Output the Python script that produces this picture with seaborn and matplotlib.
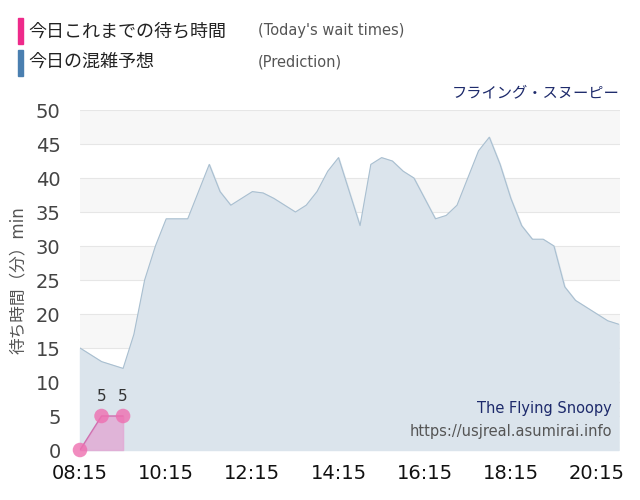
import matplotlib
matplotlib.use("Agg")
import matplotlib.pyplot as plt
import seaborn as sns
import pandas as pd
import numpy as np

sns.set_theme(style="white")
plt.rcParams['font.family'] = ['DejaVu Sans', 'Noto Sans CJK JP']

pred_times = ["08:15","08:30","08:45","09:00","09:15","09:30","09:45","10:00","10:15","10:30",
              "10:45","11:00","11:15","11:30","11:45","12:00","12:15","12:30","12:45","13:00",
              "13:15","13:30","13:45","14:00","14:15","14:30","14:45","15:00","15:15","15:30",
              "15:45","16:00","16:15","16:30","16:45","17:00","17:15","17:30","17:45","18:00",
              "18:15","18:30","18:45","19:00","19:15","19:30","19:45","20:00","20:15","20:30","20:45"]
pred_vals = [15,14,13,12.5,12,17,25,30,34,34,
             34,38,42,38,36,37,38,37.8,37,36,
             35,36,38,41,43,38,33,42,43,42.5,
             41,40,37,34,34.5,36,40,44,46,42,
             37,33,31,31,30,24,22,21,20,19,18.5]
act_times = ["08:15","08:45","09:15"]
act_vals = [0,5,5]
tick_labels = ["08:15","10:15","12:15","14:15","16:15","18:15","20:15"]

def tmin(s):
    h, m = s.split(":")
    return int(h)*60+int(m)

pred = pd.DataFrame({"t":[tmin(s) for s in pred_times], "v":pred_vals})
act = pd.DataFrame({"t":[tmin(s) for s in act_times], "v":act_vals})

fig = plt.figure(figsize=(6.4,5.0), dpi=100)
ax = fig.add_axes([80/640, 50/500, 540/640, 340/500])
t0 = tmin("08:15")
ax.set_xlim(t0, tmin("20:47"))
ax.set_ylim(0, 50)
for i, y in enumerate(range(0, 50, 5)):
    ax.axhspan(y, y+5, color="#f7f7f7" if i % 2 else "#ffffff", zorder=0, lw=0)
for y in range(0, 55, 5):
    ax.axhline(y, color="#e6e6e6", lw=0.8, zorder=0.5)

ax.fill_between(pred.t, pred.v, color="#dbe4ec", zorder=1)
sns.lineplot(data=pred, x="t", y="v", ax=ax, color="#a9bfd0", lw=0.8, zorder=2)
ax.fill_between(act.t, act.v, color="#e2a8d4", alpha=0.8, zorder=3)
sns.lineplot(data=act, x="t", y="v", ax=ax, color="#d070b0", lw=1, zorder=4)
sc = sns.scatterplot(data=act, x="t", y="v", ax=ax, color="#ee6fb0", s=110, alpha=0.8, edgecolor="none", zorder=5)
for c in ax.collections:
    c.set_clip_on(False)
for t, v in zip(act.t[1:], act.v[1:]):
    ax.text(t, v+1.8, str(v), ha="center", va="bottom", fontsize=11, color="#333")

ax.set_xticks([tmin(s) for s in tick_labels])
ax.set_xticklabels(tick_labels, fontsize=14, color="#111")
ax.set_yticks(range(0, 55, 5))
ax.set_yticklabels([str(y) for y in range(0, 55, 5)], fontsize=14, color="#444")
ax.tick_params(axis="x", length=0, pad=10)
ax.tick_params(axis="y", length=0, pad=14)
ax.set_xlabel("")
ax.set_ylabel("待ち時間（分）min", fontsize=12, color="#555", labelpad=6)
for s in ax.spines.values():
    s.set_visible(False)

ax.text(0.985, 0.11, "The Flying Snoopy", transform=ax.transAxes, ha="right", fontsize=10.5, color="#1d2a6b")
ax.text(0.985, 0.04, "https://usjreal.asumirai.info", transform=ax.transAxes, ha="right", fontsize=10.5, color="#555")
fig.text(620/640, 1-93/500, "フライング・スヌーピー", ha="right", va="center", fontsize=11, color="#1d2a6b")

fig.patches.append(plt.Rectangle((18/640, 1-44/500), 5/640, 26/500, color="#ee2a8a", transform=fig.transFigure))
fig.patches.append(plt.Rectangle((18/640, 1-76/500), 5/640, 26/500, color="#4a7fb0", transform=fig.transFigure))
fig.text(28/640, 1-31/500, "今日これまでの待ち時間", va="center", fontsize=13, color="#222")
fig.text(28/640, 1-62/500, "今日の混雑予想", va="center", fontsize=13, color="#222")
fig.text(258/640, 1-31/500, "(Today's wait times)", va="center", fontsize=10.5, color="#555")
fig.text(258/640, 1-62/500, "(Prediction)", va="center", fontsize=10.5, color="#555")

fig.savefig("out.png", dpi=100)
